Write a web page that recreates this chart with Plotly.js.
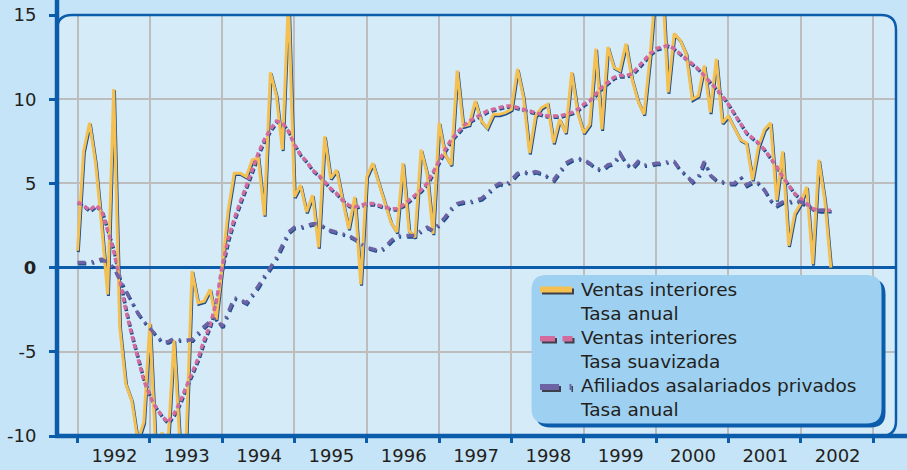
<!DOCTYPE html>
<html>
<head>
<meta charset="utf-8">
<script src="https://cdn.plot.ly/plotly-3.0.1.min.js"></script>
<style>
html,body{margin:0;padding:0;background:#c6e4f7;}
#chart{width:907px;height:470px;}
</style>
</head>
<body>
<div id="chart"></div>
<script>
// ---- DATA (monthly, January 1992 onwards) ----
const startYear = 1992;

const ventasAnual = [
  1.0, 6.9, 8.6, 6.2, 2.5, -1.6, 10.6, -3.5, -6.9, -7.9, -10.3, -9.2,      // 1992
  -3.3, -11.0, -9.8, -10.5, -4.3, -10.5, -10.5, -0.2, -2.1, -2.0, -1.3, -3.1, // 1993
  0.0, 3.4, 5.6, 5.6, 5.4, 6.4, 6.5, 3.1, 11.6, 10.2, 7.0, 16.0,           // 1994
  4.2, 4.9, 3.3, 4.3, 1.2, 7.8, 5.3, 5.8, 4.0, 2.3, 4.2, -1.0,             // 1995
  5.4, 6.2, 5.0, 3.8, 2.7, 2.1, 6.2, 2.2, 1.8, 7.0, 5.6, 2.0,              // 1996
  8.6, 6.7, 6.1, 11.7, 8.4, 8.5, 9.9, 8.7, 8.3, 9.1, 9.1, 9.2,             // 1997
  9.4, 11.8, 10.1, 6.8, 9.0, 9.5, 9.7, 7.4, 8.8, 8.0, 11.6, 9.2,           // 1998
  8.0, 8.5, 13.0, 8.2, 13.1, 11.9, 11.7, 13.3, 11.2, 9.9, 9.1, 12.5,       // 1999
  17.0, 17.3, 10.4, 13.9, 13.5, 12.7, 10.0, 10.2, 12.0, 9.2, 12.4, 8.6,    // 2000
  9.0, 8.3, 7.6, 7.4, 5.2, 7.2, 8.2, 8.6, 4.0, 6.9, 1.3, 3.2,              // 2001
  3.8, 4.8, 0.2, 6.4, 4.0, 0.0                                             // 2002
];

const ventasSuavizada = [
  3.9, 3.7, 3.4, 3.7, 3.4, 2.2, 1.0, -0.7, -2.5, -4.0, -5.4, -6.7,         // 1992
  -7.6, -8.3, -8.8, -9.2, -8.7, -8.0, -7.1, -6.2, -5.4, -4.3, -3.4, -2.1,  // 1993
  0.1, 1.7, 2.9, 3.9, 4.8, 5.8, 6.8, 7.6, 8.2, 8.7, 8.6, 8.1,              // 1994
  7.3, 6.7, 6.3, 5.8, 5.5, 5.1, 4.7, 4.4, 4.0, 3.7, 3.6, 3.7,              // 1995
  3.8, 3.8, 3.7, 3.6, 3.5, 3.5, 3.7, 4.0, 4.3, 4.6, 5.0, 5.7,              // 1996
  6.4, 7.0, 7.6, 8.0, 8.4, 8.7, 8.9, 9.1, 9.3, 9.4, 9.5, 9.6,              // 1997
  9.6, 9.5, 9.4, 9.3, 9.2, 9.1, 9.0, 9.0, 9.0, 9.1, 9.2, 9.4,              // 1998
  9.7, 9.9, 10.3, 10.7, 11.0, 11.3, 11.4, 11.4, 11.5, 11.9, 12.3, 12.7,    // 1999
  13.0, 13.1, 13.2, 13.0, 12.7, 12.4, 12.1, 11.8, 11.4, 11.0, 10.6, 10.2,  // 2000
  9.7, 9.1, 8.5, 8.0, 7.7, 7.4, 7.0, 6.5, 6.0, 5.4, 4.9, 4.4,              // 2001
  4.1, 3.8, 3.5, 3.4, 3.4, 3.4                                             // 2002
];

const afiliados = [
  0.3, 0.3, 0.3, 0.4, 0.5, 0.3, 0.0, -0.7, -1.4, -2.1, -2.7, -3.2,         // 1992
  -3.6, -4.0, -4.4, -4.4, -4.2, -4.3, -4.3, -4.3, -3.9, -3.5, -3.2, -3.0,  // 1993
  -3.5, -2.7, -1.8, -1.9, -2.1, -1.6, -1.1, -0.5, 0.0, 0.6, 1.3, 2.1,      // 1994
  2.4, 2.4, 2.5, 2.6, 2.6, 2.4, 2.2, 2.1, 2.0, 1.9, 1.7, 1.4,              // 1995
  1.2, 1.1, 1.0, 1.2, 1.6, 1.9, 1.9, 1.9, 1.9, 2.2, 2.4, 2.2,              // 1996
  2.6, 3.0, 3.5, 3.8, 3.9, 3.9, 4.0, 4.1, 4.4, 4.8, 5.0, 4.9,              // 1997
  5.2, 5.6, 5.7, 5.6, 5.7, 5.6, 5.4, 5.2, 5.7, 6.2, 6.4, 6.5,              // 1998
  6.4, 6.2, 5.9, 5.8, 6.1, 6.2, 6.8, 6.2, 5.9, 6.3, 6.1, 6.1,              // 1999
  6.2, 6.2, 6.3, 6.3, 5.8, 5.5, 5.1, 5.4, 6.3, 5.5, 5.2, 5.1,              // 2000
  5.0, 5.0, 5.4, 4.9, 5.1, 5.0, 4.6, 4.0, 3.7, 3.9, 3.9, 4.0,              // 2001
  3.9, 3.7, 3.5, 3.4, 3.4, 3.3                                             // 2002
];

const yearLabels = ['1992','1993','1994','1995','1996','1997','1998','1999','2000','2001','2002'];
const yTickVals = [-10, -5, 0, 5, 10, 15];
const yTickText = ['-10', '-5', '<b>0</b>', '5', '10', '15'];
const legendLines = [
  'Ventas interiores<br>Tasa anual',
  'Ventas interiores<br>Tasa suavizada',
  'Afiliados asalariados privados<br>Tasa anual'
];
const seriesNames = ['Ventas interiores - Tasa anual', 'Ventas interiores - Tasa suavizada', 'Afiliados asalariados privados - Tasa anual'];

// ---- GEOMETRY / STYLE ----
const W = 907, H = 470;
const PL = 57, PR = 896, PT = 15, PB = 436;
const pxPerYear = (873 - 77.5) / 11;
const x0 = startYear - (77.5 - PL) / pxPerYear;
const x1 = startYear + (PR - 77.5) / pxPerYear;
const yMin = -10, yMax = 15;
const dX = 0.8 / pxPerYear;                      // shadow shift right
const dY = 1.3 / ((PB - PT) / (yMax - yMin));    // shadow shift down

const BLUE = '#0b5cab';
const NAVY = '#1c4d8c';
const YELLOW = '#f5c052';
const PINK = '#d36c9c';
const PURPLE = '#6c63a4';
const TEXT = '#231f20';
const FONT = 'DejaVu Sans, Liberation Sans, Arial, sans-serif';

const months = ventasAnual.map((_, i) => startYear + i / 12);
const yearTicks = [];
for (let y = startYear; y <= startYear + 11; y++) yearTicks.push(y);
const yearMids = yearLabels.map((_, i) => startYear + i + 0.5);

const styles = [
  {data: ventasAnual, color: YELLOW, width: 3, dash: 'solid'},
  {data: ventasSuavizada, color: PINK, width: 3.5, dash: '5px,3px'},
  {data: afiliados, color: PURPLE, width: 3.5, dash: '8px,6px,2px,6px'}
];

const traces = [];
// shadows (main subplot, shifted scales)
styles.forEach((s, k) => {
  traces.push({
    type: 'scatter', mode: 'lines', x: months, y: s.data,
    xaxis: 'x', yaxis: 'y', name: seriesNames[k] + ' (sombra)',
    line: {color: NAVY, width: s.width, dash: s.dash},
    showlegend: false, hoverinfo: 'skip'
  });
});
// coloured series (overlay subplot, true scales)
styles.forEach((s, k) => {
  traces.push({
    type: 'scatter', mode: 'lines', x: months, y: s.data,
    xaxis: 'x2', yaxis: 'y2', name: seriesNames[k],
    line: {color: s.color, width: s.width, dash: s.dash},
    showlegend: false
  });
});

// paper-coordinate helpers
const fx = px => (px - PL) / (PR - PL);
const fy = py => (PB - py) / (PB - PT);
function rr(ax, ay, bx, by, r) {
  return `M${fx(ax + r)},${fy(ay)} L${fx(bx - r)},${fy(ay)} Q${fx(bx)},${fy(ay)} ${fx(bx)},${fy(ay + r)} ` +
         `L${fx(bx)},${fy(by - r)} Q${fx(bx)},${fy(by)} ${fx(bx - r)},${fy(by)} ` +
         `L${fx(ax + r)},${fy(by)} Q${fx(ax)},${fy(by)} ${fx(ax)},${fy(by - r)} ` +
         `L${fx(ax)},${fy(ay + r)} Q${fx(ax)},${fy(ay)} ${fx(ax + r)},${fy(ay)} Z`;
}
const R = 15;
const framePath = `M${fx(PL)},${fy(PB)} L${fx(PL)},${fy(PT + R)} Q${fx(PL)},${fy(PT)} ${fx(PL + R)},${fy(PT)} ` +
  `L${fx(PR - R)},${fy(PT)} Q${fx(PR)},${fy(PT)} ${fx(PR)},${fy(PT + R)} L${fx(PR)},${fy(PB - R)} ` +
  `Q${fx(PR)},${fy(PB)} ${fx(PR - R)},${fy(PB)} Z`;
const outlinePath = `M${fx(PL)},${fy(PT + R)} Q${fx(PL)},${fy(PT)} ${fx(PL + R)},${fy(PT)} ` +
  `L${fx(PR - R)},${fy(PT)} Q${fx(PR)},${fy(PT)} ${fx(PR)},${fy(PT + R)} L${fx(PR)},${fy(PB - R)} ` +
  `Q${fx(PR)},${fy(PB)} ${fx(PR - R)},${fy(PB)}`;

function rect(ax, ay, bx, by, color) {
  return {type: 'rect', xref: 'paper', yref: 'paper', x0: fx(ax), x1: fx(bx), y0: fy(by), y1: fy(ay),
          fillcolor: color, line: {width: 0}, layer: 'above'};
}

const LX = 531.5, LY = 275, LX2 = 881.5, LY2 = 423.5;
const shapes = [
  {type: 'path', xref: 'paper', yref: 'paper', path: framePath, fillcolor: '#d5ebf8', line: {width: 0}, layer: 'below'},
  {type: 'path', xref: 'paper', yref: 'paper', path: outlinePath, fillcolor: 'rgba(0,0,0,0)', line: {color: BLUE, width: 2.5}, layer: 'above'},
  {type: 'line', xref: 'paper', yref: 'paper', x0: fx(PL), x1: fx(PL), y0: fy(438), y1: fy(0), line: {color: BLUE, width: 4.5}, layer: 'above'},
  {type: 'line', xref: 'paper', yref: 'paper', x0: fx(PL - 2), x1: fx(W), y0: fy(PB), y1: fy(PB), line: {color: BLUE, width: 4.5}, layer: 'above'},
  // legend box with shadow
  {type: 'path', xref: 'paper', yref: 'paper', path: rr(LX + 4, LY + 4, LX2 + 4, LY2 + 4, 15), fillcolor: BLUE, line: {width: 0}, layer: 'above'},
  {type: 'path', xref: 'paper', yref: 'paper', path: rr(LX, LY, LX2, LY2, 15), fillcolor: '#9ed1f1', line: {width: 0}, layer: 'above'},
  // legend symbols (shadow first)
  rect(542, 288.5, 574, 294.5, '#3d3f4a'), rect(540, 286.5, 572, 292.5, YELLOW),
  rect(542, 338, 557, 343.5, '#3d3f4a'), rect(540, 336, 555, 341.5, PINK),
  rect(564.5, 338, 574.5, 343.5, '#3d3f4a'), rect(562.5, 336, 572.5, 341.5, PINK),
  rect(542, 386, 561, 392, '#3d3f4a'), rect(540, 384, 559, 390, PURPLE),
  rect(571.5, 386, 573, 392, '#3d3f4a'), rect(569.5, 384, 571.5, 390, PURPLE)
];

const legendCenters = [301.8, 349.6, 397.6];
const annotations = legendLines.map((t, k) => ({
  xref: 'paper', yref: 'paper', x: fx(578), y: fy(legendCenters[k]),
  xanchor: 'left', yanchor: 'middle', align: 'left', showarrow: false,
  text: t, font: {family: FONT, size: 18.5, color: TEXT}
}));

const layout = {
  width: W, height: H, autosize: false,
  margin: {l: PL, r: W - PR, t: PT, b: H - PB, pad: 0},
  paper_bgcolor: '#c6e4f7', plot_bgcolor: 'rgba(0,0,0,0)',
  showlegend: false,
  font: {family: FONT, size: 18, color: TEXT},
  xaxis: {
    range: [x0 - dX, x1 - dX], tickmode: 'array', tickvals: yearMids, ticktext: yearLabels,
    ticks: '', ticklen: 0, showgrid: false, zeroline: false, showline: false,
    tickfont: {family: FONT, size: 18, color: TEXT}, ticklabelstandoff: 7, fixedrange: true
  },
  yaxis: {
    range: [yMin + dY, yMax + dY], showticklabels: false, ticks: '', showgrid: false,
    zeroline: false, showline: false, fixedrange: true
  },
  xaxis2: {
    overlaying: 'x', anchor: 'y2', side: 'bottom', range: [x0, x1],
    tickmode: 'array', tickvals: yearTicks, ticktext: yearTicks.map(() => ''),
    ticks: 'outside', ticklen: 6, tickwidth: 3, tickcolor: BLUE, showticklabels: false,
    showgrid: true, gridcolor: '#bdbdbd', gridwidth: 2, zeroline: false, showline: false, fixedrange: true
  },
  yaxis2: {
    overlaying: 'y', anchor: 'x2', side: 'left', range: [yMin, yMax],
    tickmode: 'array', tickvals: yTickVals, ticktext: yTickText,
    ticks: 'outside', ticklen: 7, tickwidth: 3, tickcolor: BLUE,
    showgrid: true, gridcolor: '#bdbdbd', gridwidth: 2,
    zeroline: true, zerolinecolor: BLUE, zerolinewidth: 3.5, showline: false,
    tickfont: {family: FONT, size: 18, color: TEXT}, ticklabelstandoff: 9, fixedrange: true
  },
  shapes: shapes,
  annotations: annotations
};

Plotly.newPlot('chart', traces, layout, {displayModeBar: false, staticPlot: true});
</script>
</body>
</html>
